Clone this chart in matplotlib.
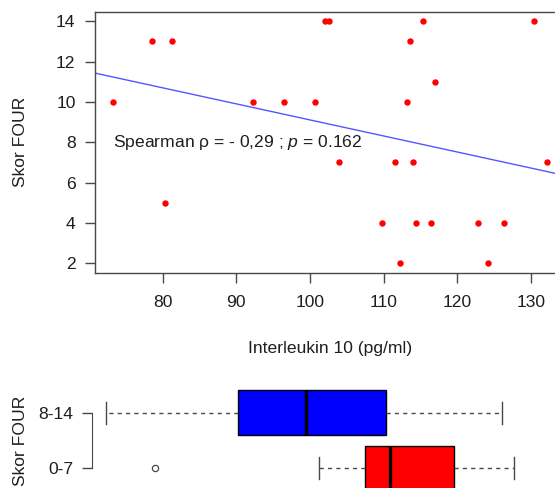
import numpy as np
import matplotlib
matplotlib.use("Agg")
import matplotlib.pyplot as plt

plt.rcParams['font.family'] = ['Liberation Sans', 'DejaVu Sans']
plt.rcParams['mathtext.fontset'] = 'custom'
plt.rcParams['mathtext.rm'] = 'Liberation Sans'
plt.rcParams['mathtext.it'] = 'Liberation Sans:italic'

# values
il10 = [73.2, 78.6, 81.2, 92.3, 96.5, 100.7, 102.1, 102.6, 113.2, 113.6,
        115.4, 117.0, 130.4,
        80.3, 104.0, 109.8, 111.6, 112.3, 114.0, 114.4, 116.4, 122.9, 124.2,
        126.4, 132.2]
four = [10, 13, 13, 10, 10, 10, 14, 14, 10, 13,
        14, 11, 14,
        5, 7, 4, 7, 2, 7, 4, 4, 4, 2,
        4, 7]
group_labels = ['0-7', '8-14']
group_colors = ['#ff0000', '#0000ff']
annot = "Spearman \u03c1 = - 0,29 ; $\\it{p}$ = 0.162"

x = np.array(il10)
y = np.array(four)

txt = '#1e1e1e'
line = '#484848'
fs = 12.6


def fivenum(v):
    # Tukey hinges, like R's boxplot
    v = np.sort(v)
    n = len(v)
    n4 = np.floor((n + 3) / 2) / 2
    d = np.array([1, n4, (n + 1) / 2, n + 1 - n4, n]) - 1
    return 0.5 * (v[np.floor(d).astype(int)] + v[np.ceil(d).astype(int)])


def r_lim(v):
    lo, hi = v.min(), v.max()
    pad = 0.04 * (hi - lo)
    return lo - pad, hi + pad


fig = plt.figure(figsize=(5.55, 4.88), dpi=100)

# ---- scatter plot ----
ax = fig.add_axes([0.1717, 0.4406, 0.845, 0.5357])
ax.plot(x, y, 'o', color='#ff0000', markersize=4.6, markeredgewidth=0, zorder=3)
slope, inter = np.polyfit(x, y, 1)
xl = r_lim(x)
xx = np.array(xl)
ax.plot(xx, inter + slope * xx, color='#5555ff', lw=1.0, zorder=2)
ax.set_xlim(xl)
ax.set_ylim(r_lim(y))
ax.text(73.2, 8, annot, fontsize=fs, color=txt, ha='left', va='center')

ax.set_xticks([80, 90, 100, 110, 120, 130])
ax.set_yticks([2, 4, 6, 8, 10, 12, 14])
for s in ax.spines.values():
    s.set_color(line)
    s.set_linewidth(1.0)
ax.tick_params(axis='both', colors=line, labelcolor=txt, labelsize=fs,
               length=7.2, width=1.0)
ax.tick_params(axis='x', pad=8.5)
ax.tick_params(axis='y', pad=7)
ax.set_xlabel('Interleukin 10 (pg/ml)', fontsize=fs, color=txt)
ax.xaxis.set_label_coords(0.5, -0.287)
ax.xaxis.label.set_va('center')
ax.set_ylabel('Skor FOUR', fontsize=fs, color=txt)
ax.yaxis.set_label_coords(-0.159, 0.5)
ax.yaxis.label.set_va('center')

# ---- boxplot ----
bx = fig.add_axes([0.1616, -0.0166, 0.7944, 0.2279])
stats = []
for g in range(2):
    v = x[(y >= 8) == bool(g)]
    lo, q1, med, q3, hi = fivenum(v)
    iqr = q3 - q1
    inside = v[(v >= q1 - 1.5 * iqr) & (v <= q3 + 1.5 * iqr)]
    stats.append(dict(med=med, q1=q1, q3=q3, whislo=inside.min(),
                      whishi=inside.max(),
                      fliers=v[(v < q1 - 1.5 * iqr) | (v > q3 + 1.5 * iqr)]))

bp = bx.bxp(stats, positions=[1, 2], widths=0.8, capwidths=0.4, vert=False,
            patch_artist=True,
            boxprops=dict(edgecolor='black', linewidth=1.0),
            medianprops=dict(color='black', linewidth=2.4),
            whiskerprops=dict(color=line, linewidth=1.0, linestyle=(0, (3, 3))),
            capprops=dict(color=line, linewidth=1.0),
            flierprops=dict(marker='o', markersize=4.5, markerfacecolor='none',
                            markeredgecolor=line, markeredgewidth=0.9))
for patch, c in zip(bp['boxes'], group_colors):
    patch.set_facecolor(c)

bx.set_xlim(xl)
bx.set_ylim(0.5, 2.5)
for side in ['top', 'right', 'bottom']:
    bx.spines[side].set_visible(False)
bx.spines['left'].set_bounds(1, 2)
bx.spines['left'].set_color(line)
bx.spines['left'].set_position(('outward', -2))
bx.set_xticks([])
bx.set_yticks([1, 2])
bx.set_yticklabels(group_labels)
bx.tick_params(axis='y', colors=line, labelcolor=txt, labelsize=fs,
               length=7, width=1.0, pad=7)
bx.set_ylabel('Skor FOUR', fontsize=fs, color=txt)
bx.yaxis.set_label_coords(-0.158, 0.5)
bx.yaxis.label.set_va('center')

fig.savefig('out.png', dpi=100)
